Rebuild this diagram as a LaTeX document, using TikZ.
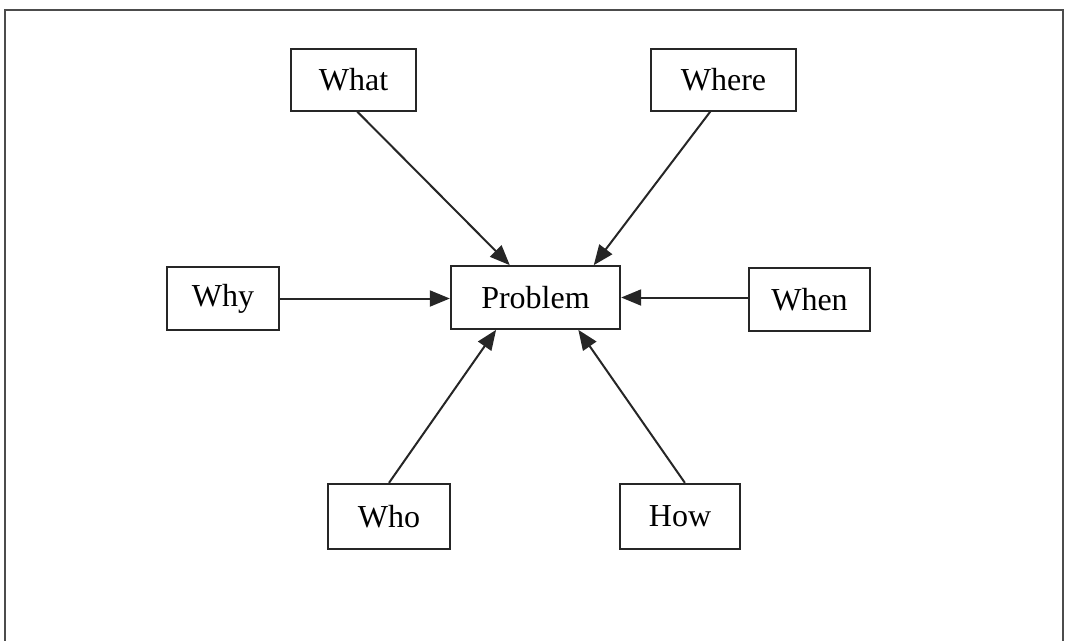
\documentclass[tikz,border=0pt]{standalone}
\usepackage{fontspec}
\setmainfont{Liberation Serif}
\usetikzlibrary{arrows.meta,calc}
\begin{document}
\begin{tikzpicture}[x=0.75pt,y=-0.75pt,
  wbox/.style={draw=black!85,line width=1.5pt,fill=white,inner sep=0pt,font=\fontsize{24}{28}\selectfont,minimum height=46pt},
  conn/.style={draw=black!85,line width=1.5pt,-{Triangle[length=15pt,width=12pt]}}]
\useasboundingbox (0,0) rectangle (1067,640);
\draw[black!70,line width=2.2pt] (5,660) -- (5,10) -- (1063,10) -- (1063,660);
\node[wbox,minimum width=94pt] (what) at (353.5,80) {What};
\node[wbox,minimum width=109pt] (where) at (723.5,80) {Where};
\node[wbox,minimum width=127pt,minimum height=47pt] (problem) at (535.5,297.5) {Problem};
\node[wbox,minimum width=84pt,minimum height=47pt] (why) at (223,298.5) {Why};
\node[wbox,minimum width=91pt,minimum height=47pt] (when) at (809.5,299.5) {When};
\node[wbox,minimum width=92pt,minimum height=49pt] (who) at (389,516.5) {Who};
\node[wbox,minimum width=90pt,minimum height=49pt] (how) at (680,516.5) {How};
\draw[conn] ($(what.south west)!0.53!(what.south east)$) -- ($(problem.north west)!0.35!(problem.north east)$);
\draw[conn] ($(where.south west)!0.41!(where.south east)$) -- ($(problem.north west)!0.84!(problem.north east)$);
\draw[conn] (why.east) -- (why.east -| problem.west);
\draw[conn] (when.west |- problem.east) -- (problem.east);
\draw[conn] (who.north) -- ($(problem.south west)!0.27!(problem.south east)$);
\draw[conn] ($(how.north west)!0.54!(how.north east)$) -- ($(problem.south west)!0.75!(problem.south east)$);
\end{tikzpicture}
\end{document}
